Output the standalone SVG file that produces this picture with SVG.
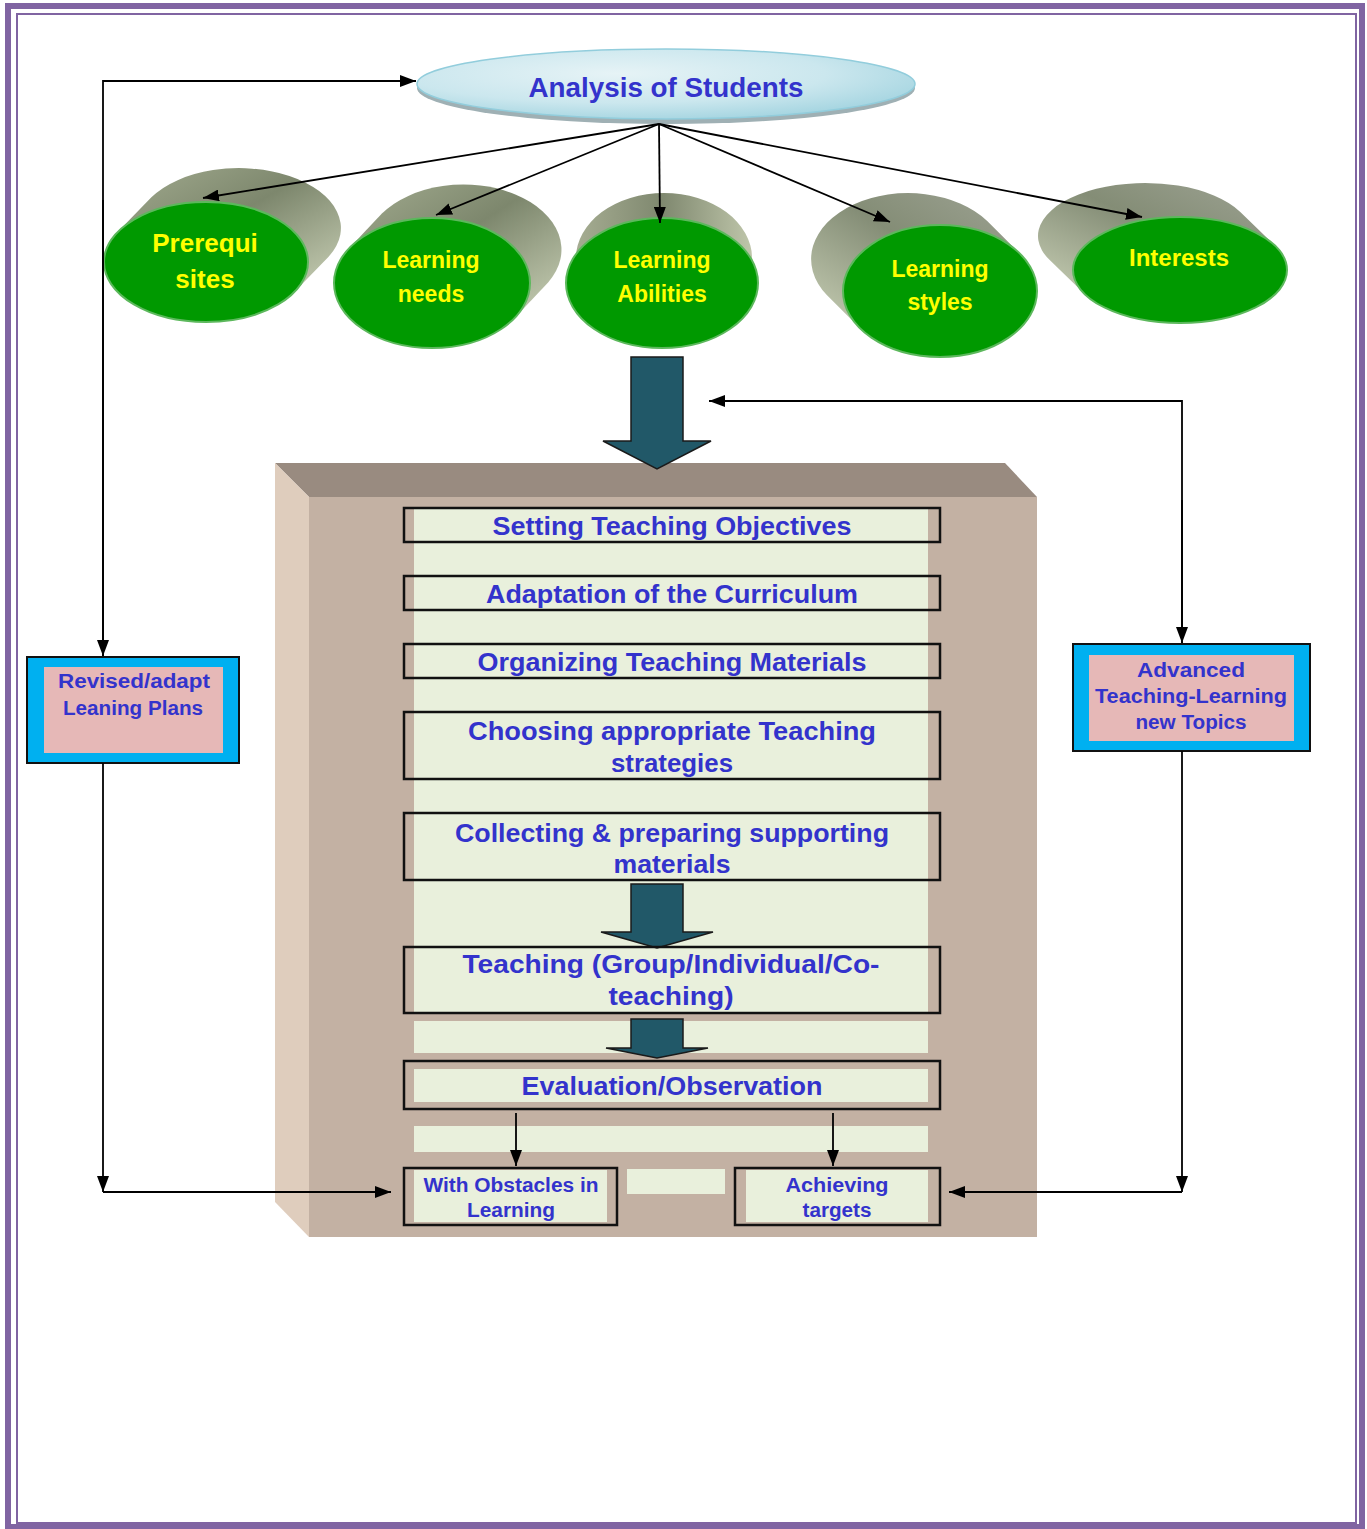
<svg xmlns="http://www.w3.org/2000/svg" width="1367" height="1529" viewBox="0 0 1367 1529">
<defs>
<style>
.lbl{font-family:"Liberation Sans",Arial,sans-serif;font-weight:bold;fill:#3333cc;text-anchor:middle}
.cyl{font-family:"Liberation Sans",Arial,sans-serif;font-weight:bold;fill:#ffff00;text-anchor:middle}
.face{fill:#009900;stroke:#5cb85c;stroke-width:2}
.box{fill:none;stroke:#111;stroke-width:2.5}
.con{fill:none;stroke:#000;stroke-width:1.8}
.big{fill:#215868;stroke:#1a1a1a;stroke-width:1.5}
.panel{fill:#e9f0dc}
</style>
<linearGradient id="sideR" x1="0" y1="0" x2="1" y2="1">
<stop offset="0" stop-color="#a2ab8f"/><stop offset="0.45" stop-color="#7d876d"/><stop offset="1" stop-color="#cbd2b8"/>
</linearGradient>
<linearGradient id="sideU" x1="0" y1="0" x2="1" y2="0">
<stop offset="0" stop-color="#aab196"/><stop offset="0.5" stop-color="#7f886f"/><stop offset="1" stop-color="#c3caae"/>
</linearGradient>
<linearGradient id="sideL" x1="0" y1="1" x2="1" y2="0">
<stop offset="0" stop-color="#c9d0b6"/><stop offset="0.55" stop-color="#848d76"/><stop offset="1" stop-color="#9ea394"/>
</linearGradient>
<radialGradient id="ana" cx="0.4" cy="0.35" r="0.7">
<stop offset="0" stop-color="#e6f3f6"/><stop offset="0.6" stop-color="#cbe7ee"/><stop offset="1" stop-color="#a3d4e0"/>
</radialGradient>
<marker id="ah" markerUnits="userSpaceOnUse" markerWidth="16" markerHeight="12" viewBox="0 0 16 12" refX="16" refY="6" orient="auto">
<path d="M0,0 L16,6 L0,12 Z" fill="#000"/>
</marker>
</defs>

<rect width="1367" height="1529" fill="#ffffff"/>
<rect x="8" y="6" width="1354" height="1521" fill="none" stroke="#8064a2" stroke-width="6"/>
<rect x="17" y="14" width="1339" height="1509" fill="none" stroke="#8064a2" stroke-width="2"/>

<g id="analysis">
<ellipse cx="666" cy="88" rx="249" ry="36" fill="#9fb0b4"/>
<ellipse cx="666" cy="84" rx="249" ry="35" fill="url(#ana)" stroke="#92cddc" stroke-width="1.5"/>
<text class="lbl" x="666" y="97" font-size="28" textLength="275" lengthAdjust="spacingAndGlyphs">Analysis of Students</text>
</g>

<g id="prerequisites">
<path d="M294.6,291.7 L328.6,256.7 A102,60 0 0 0 151.4,197.3 L117.4,232.3 Z" fill="url(#sideR)"/>
<ellipse class="face" cx="206" cy="262" rx="102" ry="60"/>
<text class="cyl" x="205" y="252" font-size="26">Prerequi</text>
<text class="cyl" x="205" y="288" font-size="26">sites</text>
</g>

<g id="learning-needs">
<path d="M515.1,317.4 L548.1,282.4 A98,65 0 0 0 381.9,213.6 L348.9,248.6 Z" fill="url(#sideR)"/>
<ellipse class="face" cx="432" cy="283" rx="98" ry="65"/>
<text class="cyl" x="431" y="268" font-size="23">Learning</text>
<text class="cyl" x="431" y="302" font-size="23">needs</text>
</g>

<g id="learning-abilities">
<path d="M758,283 L752,258 A88,65 0 0 0 576,258 L566,283 Z" fill="url(#sideU)"/>
<ellipse class="face" cx="662" cy="283" rx="96" ry="65"/>
<text class="cyl" x="662" y="268" font-size="23">Learning</text>
<text class="cyl" x="662" y="302" font-size="23">Abilities</text>
</g>

<g id="learning-styles">
<path d="M1020.2,253.9 L987.2,220.9 A97,66 0 0 0 826.8,295.1 L859.8,328.1 Z" fill="url(#sideL)"/>
<ellipse class="face" cx="940" cy="291" rx="97" ry="66"/>
<text class="cyl" x="940" y="277" font-size="23">Learning</text>
<text class="cyl" x="940" y="310" font-size="23">styles</text>
</g>

<g id="interests">
<path d="M1275.3,245.9 L1240.3,211.9 A107,53 0 0 0 1049.7,260.1 L1084.7,294.1 Z" fill="url(#sideL)"/>
<ellipse class="face" cx="1180" cy="270" rx="107" ry="53"/>
<text class="cyl" x="1179" y="266" font-size="24">Interests</text>
</g>

<g id="process-block">
<polygon points="275,463 1005,463 1037,497 309,497" fill="#998b80"/>
<polygon points="275,463 309,497 309,1237 275,1202" fill="#dfcdbd"/>
<rect x="309" y="497" width="728" height="740" fill="#c3b1a3"/>
<rect class="panel" x="414" y="509" width="514" height="504"/>
<rect class="panel" x="414" y="1021" width="514" height="32"/>
<rect class="panel" x="414" y="1069" width="514" height="33"/>
<rect class="panel" x="414" y="1126" width="514" height="26"/>
<rect class="panel" x="627" y="1169" width="98" height="25"/>
</g>

<g id="arrow-main">
<path class="big" d="M631,357 L683,357 L683,441 L711,441 L657,469 L603,441 L631,441 Z"/>
</g>

<g id="setting-objectives">
<rect class="box" x="404" y="508" width="536" height="34"/>
<text class="lbl" x="672" y="535" font-size="25" textLength="359" lengthAdjust="spacingAndGlyphs">Setting Teaching Objectives</text>
</g>
<g id="adaptation">
<rect class="box" x="404" y="576" width="536" height="34"/>
<text class="lbl" x="672" y="603" font-size="25" textLength="372" lengthAdjust="spacingAndGlyphs">Adaptation of the Curriculum</text>
</g>
<g id="organizing">
<rect class="box" x="404" y="644" width="536" height="34"/>
<text class="lbl" x="672" y="671" font-size="25" textLength="389" lengthAdjust="spacingAndGlyphs">Organizing Teaching Materials</text>
</g>
<g id="choosing">
<rect class="box" x="404" y="712" width="536" height="67"/>
<text class="lbl" x="672" y="740" font-size="25" textLength="408" lengthAdjust="spacingAndGlyphs">Choosing appropriate Teaching</text>
<text class="lbl" x="672" y="772" font-size="25" textLength="122" lengthAdjust="spacingAndGlyphs">strategies</text>
</g>
<g id="collecting">
<rect class="box" x="404" y="813" width="536" height="67"/>
<text class="lbl" x="672" y="842" font-size="25" textLength="434" lengthAdjust="spacingAndGlyphs">Collecting &amp; preparing supporting</text>
<text class="lbl" x="672" y="873" font-size="25" textLength="117" lengthAdjust="spacingAndGlyphs">materials</text>
</g>
<g id="arrow-2">
<path class="big" d="M631,884 L683,884 L683,932 L713,932 L657,948 L601,932 L631,932 Z"/>
</g>
<g id="teaching">
<rect class="box" x="404" y="947" width="536" height="66"/>
<text class="lbl" x="671" y="973" font-size="25" textLength="417" lengthAdjust="spacingAndGlyphs">Teaching (Group/Individual/Co-</text>
<text class="lbl" x="671" y="1005" font-size="25" textLength="125" lengthAdjust="spacingAndGlyphs">teaching)</text>
</g>
<g id="arrow-3">
<path class="big" d="M631,1019 L683,1019 L683,1048 L708,1048 L657,1058 L606,1048 L631,1048 Z"/>
</g>
<g id="evaluation">
<rect class="box" x="404" y="1061" width="536" height="48"/>
<text class="lbl" x="672" y="1095" font-size="25" textLength="301" lengthAdjust="spacingAndGlyphs">Evaluation/Observation</text>
</g>
<g id="obstacles">
<rect class="panel" x="414" y="1170" width="193" height="52"/>
<rect class="box" x="404" y="1168" width="213" height="57"/>
<text class="lbl" x="511" y="1192" font-size="20" textLength="175" lengthAdjust="spacingAndGlyphs">With Obstacles in</text>
<text class="lbl" x="511" y="1217" font-size="20" textLength="88" lengthAdjust="spacingAndGlyphs">Learning</text>
</g>
<g id="achieving">
<rect class="panel" x="746" y="1170" width="182" height="52"/>
<rect class="box" x="735" y="1168" width="205" height="57"/>
<text class="lbl" x="837" y="1192" font-size="20" textLength="103" lengthAdjust="spacingAndGlyphs">Achieving</text>
<text class="lbl" x="837" y="1217" font-size="20" textLength="69" lengthAdjust="spacingAndGlyphs">targets</text>
</g>

<g id="revised-plans">
<rect x="27" y="657" width="212" height="106" fill="#00b0f0" stroke="#111" stroke-width="2"/>
<rect x="44" y="667" width="179" height="86" fill="#e6b8b7"/>
<text class="lbl" x="134" y="688" font-size="20" textLength="152" lengthAdjust="spacingAndGlyphs">Revised/adapt</text>
<text class="lbl" x="133" y="715" font-size="20" textLength="140" lengthAdjust="spacingAndGlyphs">Leaning Plans</text>
</g>

<g id="advanced-topics">
<rect x="1073" y="644" width="237" height="107" fill="#00b0f0" stroke="#111" stroke-width="2"/>
<rect x="1089" y="655" width="205" height="86" fill="#e6b8b7"/>
<text class="lbl" x="1191" y="677" font-size="20" textLength="108" lengthAdjust="spacingAndGlyphs">Advanced</text>
<text class="lbl" x="1191" y="703" font-size="20" textLength="192" lengthAdjust="spacingAndGlyphs">Teaching-Learning</text>
<text class="lbl" x="1191" y="729" font-size="20" textLength="111" lengthAdjust="spacingAndGlyphs">new Topics</text>
</g>

<g id="connectors">
<line class="con" x1="659" y1="124" x2="203" y2="198" marker-end="url(#ah)"/>
<line class="con" x1="659" y1="124" x2="436" y2="215" marker-end="url(#ah)"/>
<line class="con" x1="659" y1="124" x2="660" y2="223" marker-end="url(#ah)"/>
<line class="con" x1="659" y1="124" x2="890" y2="222" marker-end="url(#ah)"/>
<line class="con" x1="659" y1="124" x2="1142" y2="217" marker-end="url(#ah)"/>
<polyline class="con" points="103,656 103,81 416,81" marker-end="url(#ah)"/>
<line class="con" x1="103" y1="200" x2="103" y2="656" marker-end="url(#ah)"/>
<line class="con" x1="103" y1="763" x2="103" y2="1192" marker-end="url(#ah)"/>
<line class="con" x1="103" y1="1192" x2="391" y2="1192" marker-end="url(#ah)"/>
<polyline class="con" points="1182,643 1182,401 709,401" marker-end="url(#ah)"/>
<line class="con" x1="1182" y1="500" x2="1182" y2="643" marker-end="url(#ah)"/>
<line class="con" x1="1182" y1="751" x2="1182" y2="1192" marker-end="url(#ah)"/>
<line class="con" x1="1182" y1="1192" x2="949" y2="1192" marker-end="url(#ah)"/>
<line class="con" x1="516" y1="1113" x2="516" y2="1166" marker-end="url(#ah)"/>
<line class="con" x1="833" y1="1113" x2="833" y2="1166" marker-end="url(#ah)"/>
</g>
</svg>
